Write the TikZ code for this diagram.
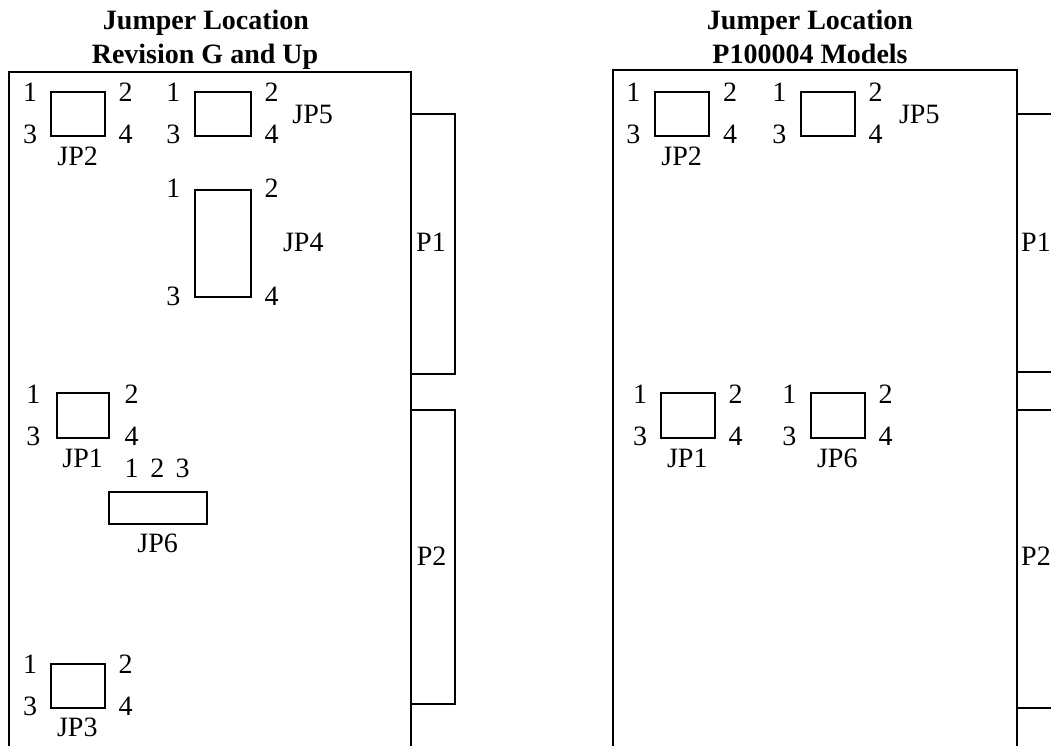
\documentclass[tikz,border=0pt]{standalone}
\usepackage{fontspec}
\setmainfont{Liberation Serif}
\begin{document}
\begin{tikzpicture}[x=1bp,y=-1bp,
  jbox/.style={draw,line width=2bp,inner sep=0pt,outer sep=0pt,minimum width=54.5bp,minimum height=44bp},
  lbl/.style={inner sep=0pt,anchor=base,font=\fontsize{28bp}{33bp}\selectfont},
  ttl/.style={inner sep=0pt,anchor=base,font=\bfseries\fontsize{28bp}{33bp}\selectfont},
  edge/.style={line width=2bp,line join=miter}]
\useasboundingbox (0,0) rectangle (1051,746);
\clip (0,0) rectangle (1051,746);
% ---------------- left panel ----------------
\node[ttl] (lt1) at (206,30) {Jumper Location};
\node[ttl] (lt2) at (205,63.3) {Revision G and Up};
\coordinate (lb1) at (8.7,760);
\coordinate (lb2) at (8.7,71.7);
\coordinate (lb3) at (410.7,71.7);
\coordinate (lb4) at (410.7,760);
\draw[edge] (lb1) -- (lb2) -- (lb3) -- (lb4);
% P1 / P2 connectors
\draw[edge] (410.7,114.3) -- (455,114.3) -- (455,374) -- (410.7,374);
\draw[edge] (410.7,410) -- (455,410) -- (455,704) -- (410.7,704);
\node[lbl] (lp1) at (431,251) {P1};
\node[lbl] (lp2) at (431.7,565) {P2};
% JP2
\node[jbox] (ljp2) at (78.2,114) {};
\node[lbl] at (30,101.7) {1};
\node[lbl] at (30,143.3) {3};
\node[lbl] at (125.7,101.7) {2};
\node[lbl] at (125.7,143.3) {4};
\node[lbl] at (77.7,165.7) {JP2};
% JP5
\node[jbox,minimum width=56bp] (ljp5) at (223,114) {};
\node[lbl] at (173.3,101.7) {1};
\node[lbl] at (173.3,143.3) {3};
\node[lbl] at (271.7,101.7) {2};
\node[lbl] at (271.7,143.3) {4};
\node[lbl] at (312.7,123.3) {JP5};
% JP4
\node[jbox,minimum width=56bp,minimum height=107.3bp] (ljp4) at (223,243.7) {};
\node[lbl] at (173.3,197.3) {1};
\node[lbl] at (271.7,197.3) {2};
\node[lbl] at (173.3,305) {3};
\node[lbl] at (271.7,305) {4};
\node[lbl] at (303.3,251) {JP4};
% JP1
\node[jbox,minimum width=52.3bp,minimum height=44.4bp] (ljp1) at (82.9,415.5) {};
\node[lbl] at (33.3,403.3) {1};
\node[lbl] at (33.3,445) {3};
\node[lbl] at (131.7,403.3) {2};
\node[lbl] at (131.7,445) {4};
\node[lbl] at (82.7,467.3) {JP1};
% JP6
\node[jbox,minimum width=98.6bp,minimum height=32.3bp] (ljp6) at (158,507.9) {};
\node[lbl] at (131.7,477.3) {1};
\node[lbl] at (157.3,477.3) {2};
\node[lbl] at (182.7,477.3) {3};
\node[lbl] at (157.7,552.7) {JP6};
% JP3
\node[jbox,minimum height=43.7bp] (ljp3) at (78,685.9) {};
\node[lbl] at (30,673.3) {1};
\node[lbl] at (30,715) {3};
\node[lbl] at (125.7,673.3) {2};
\node[lbl] at (125.7,715) {4};
\node[lbl] at (77.3,736.7) {JP3};
% ---------------- right panel ----------------
\node[ttl] (rt1) at (810,30) {Jumper Location};
\node[ttl] (rt2) at (810,63.3) {P100004 Models};
\coordinate (rb1) at (612.7,760);
\coordinate (rb2) at (612.7,70.5);
\coordinate (rb3) at (1016.7,70.5);
\coordinate (rb4) at (1016.7,760);
\draw[edge] (rb1) -- (rb2) -- (rb3) -- (rb4);
\draw[edge] (1016.7,114.3) -- (1070,114.3);
\draw[edge] (1016.7,371.7) -- (1070,371.7);
\draw[edge] (1016.7,410) -- (1070,410);
\draw[edge] (1016.7,708.3) -- (1070,708.3);
\node[lbl,anchor=base west] (rp1) at (1021,251) {P1};
\node[lbl,anchor=base west] (rp2) at (1021,565) {P2};
% JP2
\node[jbox] (rjp2) at (682,114) {};
\node[lbl] at (633.3,101.7) {1};
\node[lbl] at (633.3,143.3) {3};
\node[lbl] at (730,101.7) {2};
\node[lbl] at (730,143.3) {4};
\node[lbl] at (681.7,165.7) {JP2};
% JP5
\node[jbox] (rjp5) at (828,114) {};
\node[lbl] at (779.3,101.7) {1};
\node[lbl] at (779.3,143.3) {3};
\node[lbl] at (875.7,101.7) {2};
\node[lbl] at (875.7,143.3) {4};
\node[lbl] at (919.3,123.3) {JP5};
% JP1
\node[jbox,minimum height=44.4bp] (rjp1) at (687.9,415.5) {};
\node[lbl] at (640,403.3) {1};
\node[lbl] at (640,445) {3};
\node[lbl] at (735.7,403.3) {2};
\node[lbl] at (735.7,445) {4};
\node[lbl] at (687.3,467.3) {JP1};
% JP6
\node[jbox,minimum height=44.4bp] (rjp6) at (837.9,415.5) {};
\node[lbl] at (789.3,403.3) {1};
\node[lbl] at (789.3,445) {3};
\node[lbl] at (885.7,403.3) {2};
\node[lbl] at (885.7,445) {4};
\node[lbl] at (837.3,467.3) {JP6};
\end{tikzpicture}
\end{document}
